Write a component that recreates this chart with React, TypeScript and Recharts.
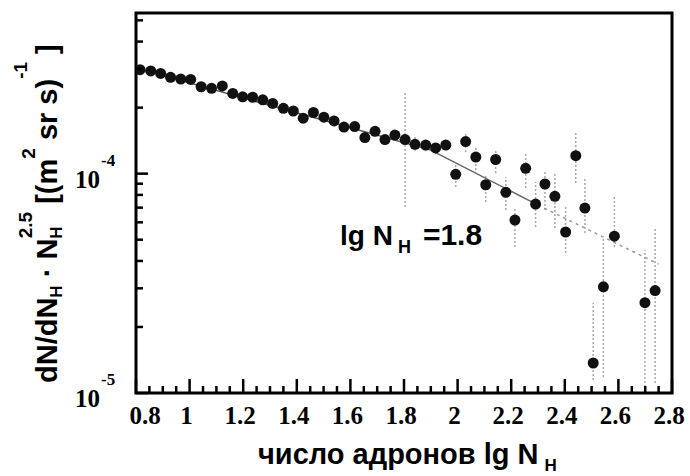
import React from 'react';
import { ScatterChart, Scatter, XAxis, YAxis, ErrorBar, ReferenceArea } from 'recharts';

const lgN = [
  0.815, 0.855, 0.892, 0.929, 0.967, 1.004, 1.043, 1.082, 1.122, 1.161,
  1.198, 1.235, 1.273, 1.31, 1.35, 1.387, 1.424, 1.462, 1.501, 1.539,
  1.576, 1.616, 1.654, 1.692, 1.729, 1.766, 1.804, 1.841, 1.881, 1.918,
  1.956, 1.993, 2.03, 2.068, 2.105, 2.142, 2.18, 2.214, 2.254, 2.291,
  2.326, 2.363, 2.403, 2.441, 2.475, 2.506, 2.544, 2.585, 2.699, 2.737,
];
const flux = [
  2.98e-4, 2.94e-4, 2.865e-4, 2.75e-4, 2.7e-4, 2.69e-4, 2.49e-4, 2.45e-4, 2.51e-4, 2.32e-4,
  2.24e-4, 2.23e-4, 2.17e-4, 2.09e-4, 1.985e-4, 1.93e-4, 1.79e-4, 1.9e-4, 1.81e-4, 1.74e-4,
  1.63e-4, 1.64e-4, 1.46e-4, 1.56e-4, 1.43e-4, 1.5e-4, 1.43e-4, 1.36e-4, 1.35e-4, 1.31e-4,
  1.35e-4, 9.93e-5, 1.4e-4, 1.19e-4, 8.9e-5, 1.16e-4, 8.22e-5, 6.14e-5, 1.057e-4, 7.27e-5,
  8.97e-5, 7.88e-5, 5.42e-5, 1.207e-4, 6.97e-5, 1.37e-5, 3.05e-5, 5.19e-5, 2.58e-5, 2.93e-5,
];
// lower / upper ends of the error bars (null = hidden under the marker)
const fluxLow = [
  null, null, null, null, null, null, null, null, null, null,
  null, null, null, null, null, null, null, null, null, null,
  null, null, null, null, null, null, 7.04e-5, 1.268e-4, 1.264e-4, 1.232e-4,
  1.281e-4, 8.69e-5, 1.254e-4, 1.038e-4, 7.42e-5, 1.006e-4, 6.83e-5, 4.63e-5, 8.6e-5, 5.71e-5,
  6.83e-5, 5.65e-5, 4.35e-5, 9.06e-5, 5.36e-5, 1.146e-5, 1.183e-5, 4.63e-5, 1.065e-5, 1.11e-5,
];
const fluxHigh = [
  null, null, null, null, null, null, null, null, null, null,
  null, null, null, null, null, null, null, null, null, null,
  null, null, null, null, null, null, 2.33e-4, 1.469e-4, 1.433e-4, 1.398e-4,
  1.423e-4, 1.094e-4, 1.531e-4, 1.322e-4, 9.85e-5, 1.281e-4, 9.65e-5, 7.04e-5, 1.254e-4, 9.16e-5,
  1.017e-4, 1.017e-4, 7.04e-5, 1.531e-4, 9.65e-5, 2.57e-5, 5.14e-5, 7.82e-5, 4.48e-5, 5.71e-5,
];

// fitted power law with the knee near lg N_H = 1.9
const fitX = [0.8, 1.9];
const fitY = [3.03e-4, 1.28e-4];
const kneeX = [1.9, 2.3];
const kneeY = [1.28e-4, 7.19e-5];
const tailX = [2.3, 2.75];
const tailY = [7.19e-5, 3.87e-5];

const xMajorTicks = [0.8, 1, 1.2, 1.4, 1.6, 1.8, 2, 2.2, 2.4, 2.6, 2.8];
const xMinorTicks = [
  0.85, 0.9, 0.95, 1.05, 1.1, 1.15, 1.25, 1.3, 1.35, 1.45, 1.5, 1.55, 1.65, 1.7, 1.75,
  1.85, 1.9, 1.95, 2.05, 2.1, 2.15, 2.25, 2.3, 2.35, 2.45, 2.5, 2.55, 2.65, 2.7, 2.75,
];
const yMajorTicks = [1e-5, 1e-4];
const yMinorTicks = [2e-5, 3e-5, 4e-5, 5e-5, 6e-5, 7e-5, 8e-5, 9e-5, 2e-4, 3e-4, 4e-4, 5e-4];
const yExponents = ['-5', '-4'];

const points = lgN.map((x, i) => {
  const y = flux[i];
  const lo = fluxLow[i];
  const hi = fluxHigh[i];
  return { x, y, err: lo == null || hi == null ? [0, 0] : [y - lo, hi - y] };
});
const toLine = (xs: number[], ys: number[]) => xs.map((x, i) => ({ x, y: ys[i] }));

const serif = '"Liberation Serif", "Times New Roman", serif';
const sans = '"Liberation Sans", Arial, sans-serif';

const XTick = (props: any) => {
  const { x, y, payload, index } = props;
  const v = payload.value;
  const major = xMajorTicks.some((t) => Math.abs(t - v) < 1e-6);
  // first label sits just right of the corner, as in the original
  const dx = index === 0 ? 9 : -3;
  return (
    <g>
      <line x1={x} x2={x} y1={y} y2={y - (major ? 14 : 7)} stroke="#000" strokeWidth={2.5} />
      {major && (
        <text x={x + dx} y={y + 31} textAnchor="middle" fontFamily={serif} fontWeight="bold" fontSize={25} fill="#000">
          {String(v)}
        </text>
      )}
    </g>
  );
};

const YTick = (props: any) => {
  const { x, y, payload } = props;
  const v = payload.value;
  const idx = yMajorTicks.findIndex((t) => Math.abs(t - v) / t < 1e-6);
  const major = idx >= 0;
  return (
    <g>
      <line x1={x} x2={x + (major ? 12 : 7)} y1={y} y2={y} stroke="#000" strokeWidth={2.5} />
      {major && (
        <g fontFamily={serif} fontWeight="bold" fill="#000">
          <text x={x - 36} y={y + 14} textAnchor="end" fontSize={25}>10</text>
          <text x={x - 35} y={y - 8} fontSize={17}>{yExponents[idx]}</text>
        </g>
      )}
    </g>
  );
};

const Dot = (props: any) => <circle cx={props.cx} cy={props.cy} r={5.5} fill="#111" />;
const NoDot = () => <g />;

export default function App() {
  return (
    <div style={{ position: 'absolute', left: 0, top: 0, width: 690, height: 476, background: '#fff' }}>
      <ScatterChart width={690} height={476} margin={{ top: 13, right: 18, bottom: 33, left: 76 }}>
        <XAxis
          type="number"
          dataKey="x"
          domain={[0.8, 2.8]}
          ticks={[...xMajorTicks, ...xMinorTicks]}
          interval={0}
          height={50}
          tickSize={0}
          tickMargin={0}
          axisLine={false}
          tickLine={false}
          tick={<XTick />}
          allowDataOverflow
        />
        <YAxis
          type="number"
          dataKey="y"
          scale="log"
          domain={[1e-5, 5.4e-4]}
          ticks={[...yMajorTicks, ...yMinorTicks]}
          interval={0}
          width={60}
          tickSize={0}
          tickMargin={0}
          axisLine={false}
          tickLine={false}
          tick={<YTick />}
          allowDataOverflow
        />
        <Scatter data={toLine(fitX, fitY)} line={{ stroke: '#555', strokeWidth: 1.5 }} shape={NoDot} isAnimationActive={false} />
        <Scatter data={toLine(kneeX, kneeY)} line={{ stroke: '#666', strokeWidth: 1.5 }} shape={NoDot} isAnimationActive={false} />
        <Scatter
          data={toLine(tailX, tailY)}
          line={{ stroke: '#999', strokeWidth: 1.5, strokeDasharray: '3 4' }}
          shape={NoDot}
          isAnimationActive={false}
        />
        <Scatter data={points} shape={Dot} isAnimationActive={false}>
          <ErrorBar dataKey="err" direction="y" width={0} stroke="#a8a8a8" strokeWidth={1.5} strokeDasharray="2 2" isAnimationActive={false} />
        </Scatter>
        <ReferenceArea x1={0.8} x2={2.8} y1={1e-5} y2={5.4e-4} fill="none" stroke="#000" strokeWidth={3} />
      </ScatterChart>
      <svg width={690} height={476} style={{ position: 'absolute', left: 0, top: 0, pointerEvents: 'none' }}>
        <text transform="translate(57,383) rotate(-90)" fontFamily={sans} fontWeight="bold" fontSize={29} fill="#000">
          <tspan>dN/dN</tspan>
          <tspan fontSize={17} dy={5}>H</tspan>
          <tspan dy={-5}> · N</tspan>
          <tspan fontSize={17} dy={5}>H</tspan>
          <tspan fontSize={19} dx={-12} dy={-30}>2.5</tspan>
          <tspan dy={25}> [(m</tspan>
          <tspan fontSize={19} dy={-22}>2</tspan>
          <tspan dy={22}> sr s)</tspan>
          <tspan fontSize={19} dy={-30}>-1</tspan>
          <tspan dy={30}> ]</tspan>
        </text>
        <text x={258} y={464} fontFamily={sans} fontWeight="bold" fontSize={29} fill="#000">
          <tspan>число адронов lg N</tspan>
          <tspan fontSize={17} dx={6} dy={7}>H</tspan>
        </text>
        <text x={340} y={245} fontFamily={sans} fontWeight="bold" fontSize={28} fill="#000">
          <tspan>lg N</tspan>
          <tspan fontSize={18} dx={5} dy={8}>H</tspan>
          <tspan dx={12} dy={-8} fontSize={30}>=1.8</tspan>
        </text>
      </svg>
    </div>
  );
}
